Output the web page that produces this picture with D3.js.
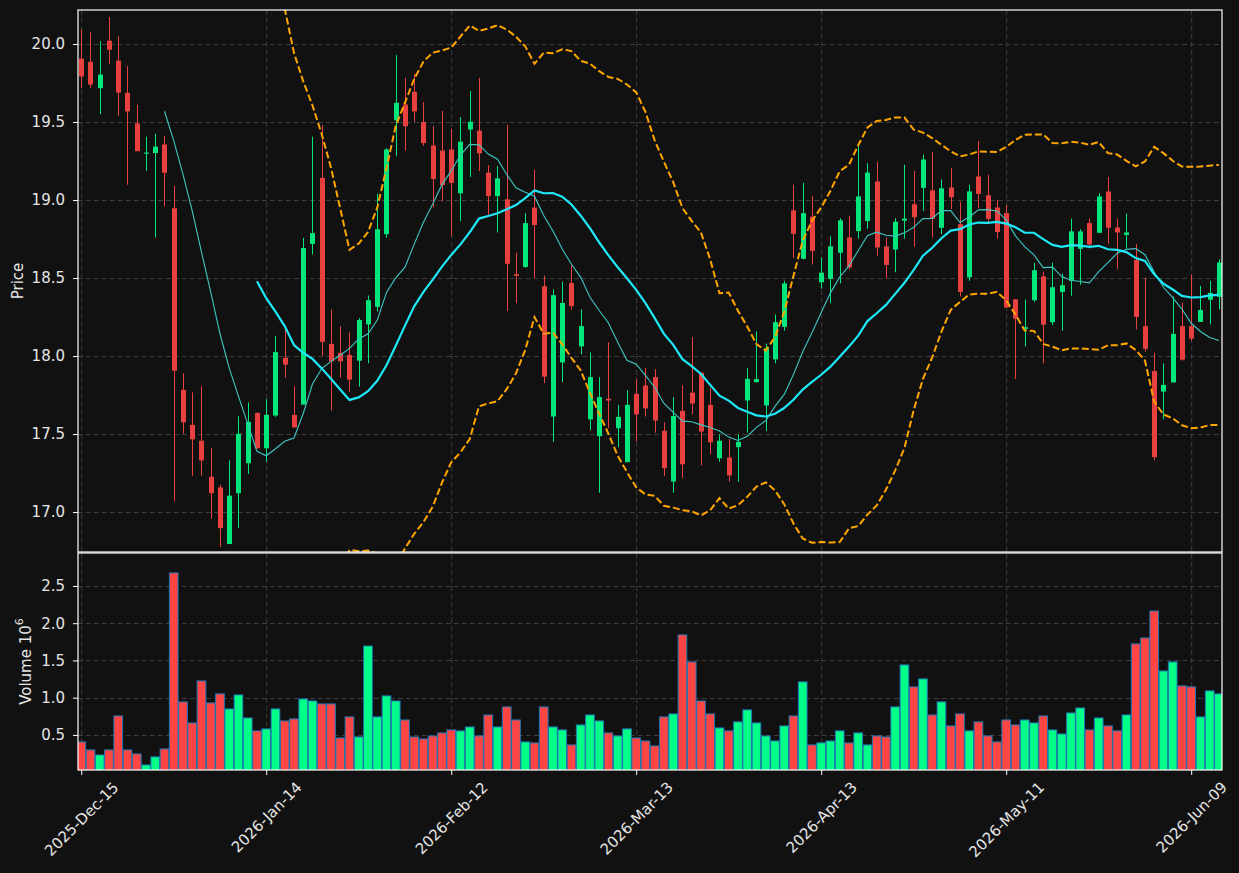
<!DOCTYPE html>
<html>
<head>
<meta charset="utf-8">
<script src="https://cdn.jsdelivr.net/npm/d3@7"></script>
<style>
html, body { margin: 0; padding: 0; background: #111111; }
svg { display: block; font-family: "DejaVu Sans", sans-serif; }
</style>
</head>
<body>
<div id="chart"></div>
<script>
// ---- data (one bar per trading day, 2025-12-15 .. 2026-06-12)
const opens = [19.906,19.886,19.717,20.021,19.893,19.687,19.491,19.297,19.301,19.356,
  18.947,17.783,17.559,17.457,17.226,17.158,16.795,17.121,17.313,17.635,
  17.409,17.619,17.989,17.623,17.689,18.719,19.142,18.078,18.021,18.007,
  17.970,18.203,18.315,18.781,19.511,19.612,19.694,19.500,19.349,19.317,
  19.324,19.043,19.452,19.445,19.176,19.025,19.005,18.525,18.571,18.952,
  18.447,17.612,17.959,18.468,18.062,17.594,17.486,17.726,17.537,17.320,
  17.758,17.811,17.865,17.521,17.196,17.648,17.765,17.893,17.687,17.345,
  17.349,17.416,17.715,17.833,17.683,17.979,18.187,18.934,18.623,18.893,
  18.473,18.495,18.662,18.760,18.801,18.865,19.119,18.703,18.683,18.868,
  18.973,19.078,19.062,18.822,19.080,18.845,18.505,19.151,19.030,18.952,
  18.916,18.363,18.174,18.358,18.511,18.217,18.411,18.482,18.687,18.852,
  18.790,19.055,18.824,18.776,18.616,18.192,17.904,17.772,17.831,18.192,
  18.192,18.219,18.361,18.379];
const highs = [20.094,20.075,20.018,20.174,20.050,19.858,19.610,19.406,19.425,19.411,
  19.089,17.890,17.767,17.806,17.411,17.176,17.331,17.614,17.703,17.640,
  17.724,18.130,18.187,17.806,18.758,19.406,19.482,18.299,18.192,18.151,
  18.244,18.388,19.041,19.333,19.929,19.783,19.808,19.628,19.475,19.571,
  19.457,19.532,19.699,19.783,19.224,19.217,19.482,18.662,18.916,19.194,
  18.516,18.427,18.477,18.580,18.299,18.023,17.865,18.089,17.687,17.781,
  17.852,17.925,17.916,17.575,17.737,17.813,18.121,17.895,17.795,17.498,
  17.468,17.498,17.922,18.158,18.080,18.267,18.482,19.098,19.110,19.025,
  18.632,18.769,18.884,18.900,19.347,19.237,19.244,18.760,18.884,19.226,
  19.187,19.290,19.308,19.132,19.205,18.989,19.098,19.379,19.162,19.002,
  18.968,18.365,18.363,18.598,18.541,18.598,18.527,18.881,18.813,18.881,
  19.043,19.148,18.881,18.913,18.719,18.502,18.021,17.954,18.381,18.342,
  18.523,18.450,18.482,18.619];
const lows = [19.717,19.717,19.550,19.872,19.539,19.098,19.313,19.187,18.760,18.961,
  17.068,17.502,17.233,17.233,16.959,16.776,16.795,16.897,17.244,17.405,
  17.322,17.610,17.861,17.540,17.689,18.651,18.000,17.651,17.861,17.772,
  17.804,17.954,18.285,18.758,19.281,19.317,19.500,19.347,18.952,18.991,
  18.769,18.865,19.148,19.185,18.906,18.792,18.288,18.338,18.566,18.500,
  17.826,17.450,17.833,18.297,18.011,17.525,17.123,17.537,17.416,17.320,
  17.452,17.612,17.509,17.231,17.123,17.219,17.628,17.299,17.372,17.322,
  17.194,17.194,17.509,17.830,17.521,17.954,18.162,18.628,18.620,18.587,
  18.432,18.338,18.466,18.555,18.753,18.815,18.644,18.498,18.537,18.753,
  18.701,18.929,18.760,18.781,18.941,18.381,18.482,18.947,18.847,18.753,
  18.310,17.852,18.062,18.347,17.954,18.199,18.162,18.386,18.457,18.689,
  18.790,18.719,18.559,18.689,18.171,18.027,17.331,17.594,17.830,17.970,
  18.096,18.219,18.203,18.299];
const closes = [19.792,19.740,19.804,19.963,19.689,19.568,19.313,19.304,19.342,19.174,
  17.906,17.575,17.466,17.331,17.121,16.897,17.105,17.502,17.578,17.409,
  17.623,18.025,17.945,17.543,18.692,18.788,18.091,17.966,17.966,17.849,
  18.231,18.358,18.813,19.324,19.623,19.473,19.568,19.365,19.135,19.096,
  19.110,19.374,19.502,19.299,19.025,19.139,18.591,18.514,18.852,18.840,
  17.868,18.390,18.340,18.320,18.192,17.865,17.737,17.715,17.610,17.687,
  17.626,17.664,17.587,17.281,17.616,17.306,17.696,17.516,17.447,17.457,
  17.235,17.450,17.854,17.852,18.050,18.217,18.466,18.783,18.916,18.674,
  18.534,18.703,18.870,18.568,19.023,19.176,18.696,18.584,18.861,18.881,
  18.890,19.260,18.879,19.075,19.018,18.411,19.055,19.039,18.879,18.795,
  18.311,18.240,18.185,18.550,18.201,18.441,18.454,18.799,18.799,18.715,
  19.023,18.822,18.792,18.792,18.251,18.046,17.352,17.815,18.142,17.977,
  18.112,18.295,18.404,18.600];
// volume in millions
const volumes = [0.406,0.299,0.231,0.299,0.755,0.299,0.245,0.097,0.205,0.312,
  2.675,0.943,0.661,1.225,0.930,1.051,0.849,1.037,0.728,0.554,
  0.581,0.849,0.688,0.715,0.983,0.956,0.916,0.916,0.459,0.742,
  0.473,1.694,0.742,1.024,0.956,0.701,0.473,0.446,0.486,0.527,
  0.567,0.554,0.607,0.486,0.768,0.607,0.876,0.701,0.406,0.393,
  0.876,0.607,0.567,0.366,0.634,0.768,0.688,0.527,0.486,0.581,
  0.459,0.419,0.352,0.742,0.782,1.843,1.480,0.956,0.782,0.594,
  0.554,0.675,0.836,0.661,0.486,0.419,0.621,0.755,1.212,0.366,
  0.393,0.419,0.554,0.393,0.527,0.366,0.486,0.473,0.876,1.440,
  1.145,1.252,0.768,0.943,0.621,0.782,0.554,0.675,0.486,0.406,
  0.701,0.634,0.701,0.661,0.755,0.567,0.513,0.795,0.862,0.567,
  0.728,0.621,0.554,0.768,1.722,1.802,2.164,1.359,1.480,1.158,
  1.145,0.742,1.091,1.051];

const tickIndex = [0, 20, 40, 60, 80, 100, 120];
const tickLabels = ["2025-Dec-15", "2026-Jan-14", "2026-Feb-12", "2026-Mar-13",
                    "2026-Apr-13", "2026-May-11", "2026-Jun-09"];
const priceTicks = [17.0, 17.5, 18.0, 18.5, 19.0, 19.5, 20.0];
const volumeTicks = [0.5, 1.0, 1.5, 2.0, 2.5];

// ---- layout
const width = 1239, height = 873;
const left = 78, right = 1222;
const pTop = 10, pBottom = 552;
const vTop = 553, vBottom = 770;

const upColor = "#02e67c", downColor = "#e8403f";
const upVol = "#00ff88", downVol = "#ff4444";
const gridColor = "#3d3d3d";
const textColor = "#e6e6e6";
const fontSize = 15;

const data = opens.map((o, i) => ({
    i: i, open: o, high: highs[i], low: lows[i], close: closes[i], volume: volumes[i]
}));

// moving averages + bollinger bands (20, 2) from the closes
function rolling(n, fn) {
    return data.map((d, i) => i < n - 1 ? null : fn(closes.slice(i - n + 1, i + 1)));
}
const ma10 = rolling(10, w => d3.mean(w));
const ma20 = rolling(20, w => d3.mean(w));
const bbUp = rolling(20, w => d3.mean(w) + 2 * d3.deviation(w));
const bbLo = rolling(20, w => d3.mean(w) - 2 * d3.deviation(w));

const svg = d3.select("#chart").append("svg")
    .attr("width", width)
    .attr("height", height);

svg.append("rect").attr("width", width).attr("height", height).attr("fill", "#111111");

const x = d3.scaleLinear()
    .domain([-0.35, data.length - 0.67])
    .range([left, right]);
const step = x(1) - x(0);

const y = d3.scaleLinear()
    .domain([16.744, 20.218])
    .range([pBottom, pTop]);

const yv = d3.scaleLinear()
    .domain([0.3 * d3.min(volumes), 1.1 * d3.max(volumes)])
    .range([vBottom, vTop]);

const defs = svg.append("defs");
defs.append("clipPath").attr("id", "clipPrice")
    .append("rect").attr("x", left).attr("y", pTop)
    .attr("width", right - left).attr("height", pBottom - pTop);
defs.append("clipPath").attr("id", "clipVol")
    .append("rect").attr("x", left).attr("y", vTop)
    .attr("width", right - left).attr("height", vBottom - vTop);

// ---- grid
const grid = svg.append("g")
    .attr("stroke", gridColor)
    .attr("stroke-width", 1)
    .attr("stroke-dasharray", "5,3");
grid.selectAll(".vg").data(tickIndex).join("line")
    .attr("x1", d => x(d) + 0.5).attr("x2", d => x(d) + 0.5)
    .attr("y1", pTop).attr("y2", vBottom);
grid.selectAll(".hp").data(priceTicks).join("line")
    .attr("x1", left).attr("x2", right)
    .attr("y1", d => Math.round(y(d)) + 0.5).attr("y2", d => Math.round(y(d)) + 0.5);
grid.selectAll(".hv").data(volumeTicks).join("line")
    .attr("x1", left).attr("x2", right)
    .attr("y1", d => Math.round(yv(d)) + 0.5).attr("y2", d => Math.round(yv(d)) + 0.5);

// ---- candles
const bodyW = 5;
const candles = svg.append("g").attr("clip-path", "url(#clipPrice)")
    .selectAll("g").data(data).join("g")
    .attr("fill", d => d.close >= d.open ? upColor : downColor)
    .attr("stroke", d => d.close >= d.open ? upColor : downColor);

candles.append("line")
    .attr("x1", d => Math.round(x(d.i)) + 0.5).attr("x2", d => Math.round(x(d.i)) + 0.5)
    .attr("y1", d => y(d.high)).attr("y2", d => y(d.low))
    .attr("stroke-width", 1);

candles.append("rect")
    .attr("x", d => Math.round(x(d.i)) + 0.5 - bodyW / 2)
    .attr("width", bodyW)
    .attr("y", d => y(Math.max(d.open, d.close)))
    .attr("height", d => Math.max(1, Math.abs(y(d.open) - y(d.close))))
    .attr("stroke", "none");

// ---- indicator lines
const lineGen = d3.line()
    .defined(d => d != null)
    .x((d, i) => x(i))
    .y(d => y(d));

const lines = svg.append("g").attr("clip-path", "url(#clipPrice)").attr("fill", "none");
lines.append("path").attr("d", lineGen(ma10))
    .attr("stroke", "#3fc7c3").attr("stroke-width", 1.1);
lines.append("path").attr("d", lineGen(ma20))
    .attr("stroke", "#1ee9f6").attr("stroke-width", 2.2);
[bbUp, bbLo].forEach(band => {
    lines.append("path").attr("d", lineGen(band))
        .attr("stroke", "#ffa500").attr("stroke-width", 2)
        .attr("stroke-dasharray", "7,3");
});

// ---- volume bars
svg.append("g").attr("clip-path", "url(#clipVol)")
    .selectAll("rect").data(data).join("rect")
    .attr("x", d => x(d.i) - step * 0.47)
    .attr("width", step * 0.94)
    .attr("y", d => yv(d.volume))
    .attr("height", d => vBottom + 2 - yv(d.volume))
    .attr("fill", d => d.close >= d.open ? upVol : downVol)
    .attr("stroke", "#1f77b4")
    .attr("stroke-width", 1);

// ---- frames
const frames = svg.append("g").attr("fill", "none").attr("stroke", "#ffffff").attr("stroke-width", 1.2);
frames.append("rect").attr("x", left).attr("y", pTop).attr("width", right - left).attr("height", pBottom - pTop);
frames.append("rect").attr("x", left).attr("y", vTop).attr("width", right - left).attr("height", vBottom - vTop);

// ---- axes
const axisText = g => g.selectAll("text")
    .attr("fill", textColor).style("font-family", "DejaVu Sans, sans-serif").style("font-size", fontSize + "px");

svg.append("g")
    .attr("transform", `translate(${left},0)`)
    .call(d3.axisLeft(y).tickValues(priceTicks).tickFormat(d3.format(".1f")).tickSize(5).tickPadding(8))
    .call(g => g.select(".domain").remove())
    .call(g => g.selectAll("line").attr("stroke", "#ffffff"))
    .call(axisText);

svg.append("g")
    .attr("transform", `translate(${left},0)`)
    .call(d3.axisLeft(yv).tickValues(volumeTicks).tickFormat(d3.format(".1f")).tickSize(5).tickPadding(8))
    .call(g => g.select(".domain").remove())
    .call(g => g.selectAll("line").attr("stroke", "#ffffff"))
    .call(axisText);

const xAxis = svg.append("g")
    .attr("transform", `translate(0,${vBottom})`)
    .call(d3.axisBottom(x).tickValues(tickIndex).tickFormat((d, i) => tickLabels[i]).tickSize(5))
    .call(g => g.select(".domain").remove())
    .call(g => g.selectAll("line").attr("stroke", "#ffffff"))
    .call(axisText);

// rotate labels 45 deg, bounding box centred on the tick, top just below it
xAxis.selectAll(".tick text").each(function() {
    const t = d3.select(this);
    const w = this.getComputedTextLength();
    const h = fontSize * 1.1;
    const half = (w + h) / (2 * Math.SQRT2);
    t.attr("y", null).attr("dy", null)
        .attr("text-anchor", "middle")
        .attr("dominant-baseline", "central")
        .attr("transform", `translate(0,${9 + half}) rotate(-45)`);
});

// ---- axis titles
svg.append("text")
    .attr("transform", `translate(18,${(pTop + pBottom) / 2}) rotate(-90)`)
    .attr("text-anchor", "middle")
    .attr("dominant-baseline", "central")
    .attr("fill", textColor)
    .style("font-size", fontSize + "px")
    .text("Price");

const vLabel = svg.append("text")
    .attr("transform", `translate(26,${(vTop + vBottom) / 2}) rotate(-90)`)
    .attr("text-anchor", "middle")
    .attr("dominant-baseline", "central")
    .attr("fill", textColor)
    .style("font-size", fontSize + "px");
vLabel.append("tspan").text("Volume  10");
vLabel.append("tspan").attr("dy", -7).style("font-size", "11px").text("6");
</script>
</body>
</html>
